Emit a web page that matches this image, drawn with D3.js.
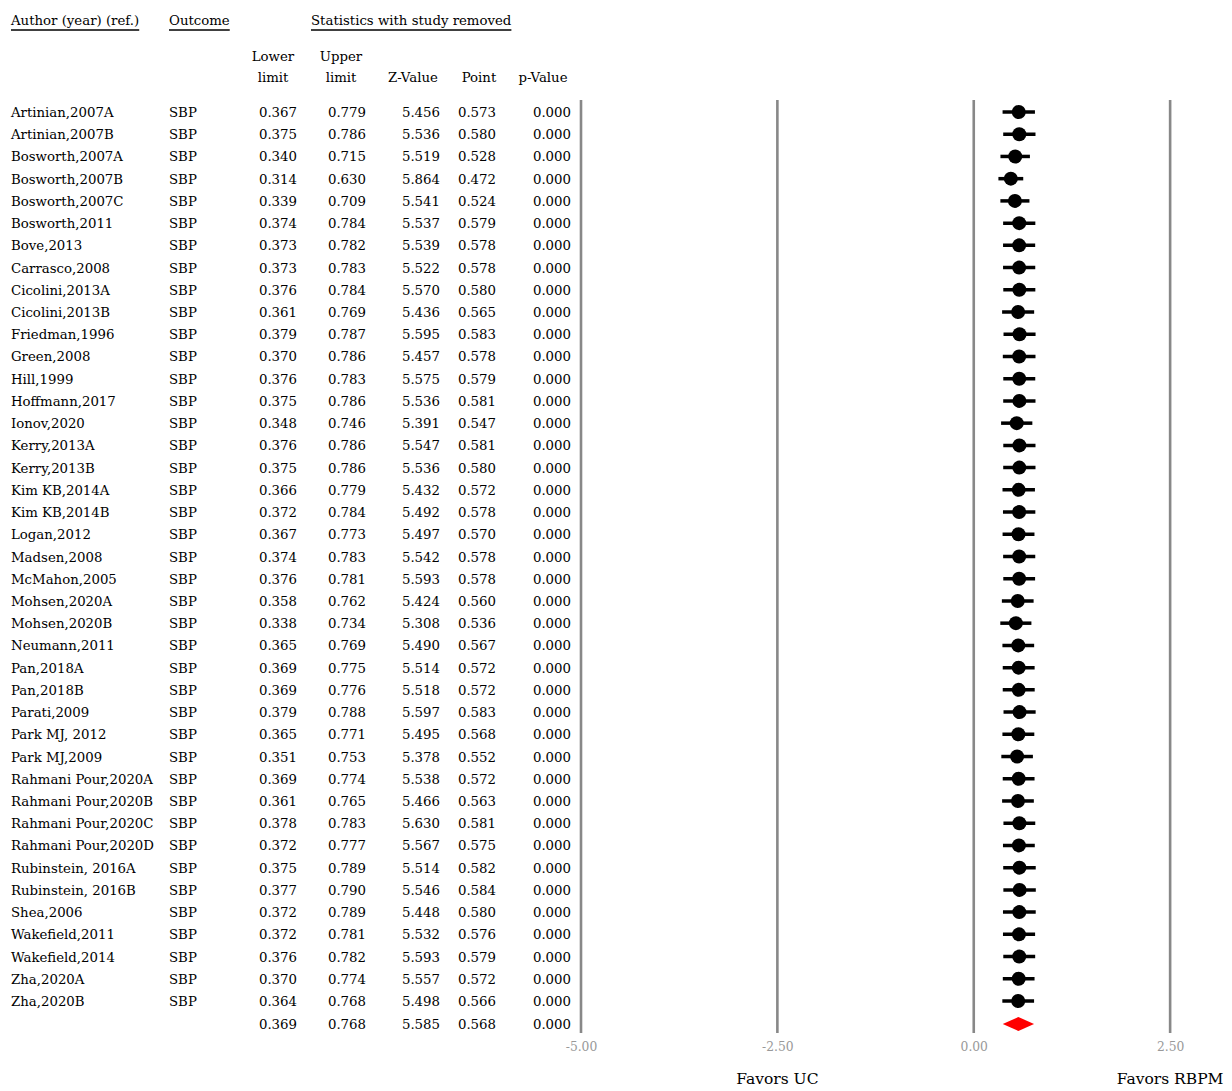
<!DOCTYPE html>
<html>
<head>
<meta charset="utf-8">
<script src="https://cdn.jsdelivr.net/npm/d3@7"></script>
<style>
  html, body { margin: 0; padding: 0; background: #fff; }
  svg { display: block; }
  text { font-family: "DejaVu Serif", "Liberation Serif", serif; }
</style>
</head>
<body>
<svg id="chart" width="1232" height="1091"></svg>
<script>
// Sensitivity analysis: one-study-removed statistics for SBP
const studies = [
  "Artinian,2007A", "Artinian,2007B", "Bosworth,2007A", "Bosworth,2007B", "Bosworth,2007C",
  "Bosworth,2011", "Bove,2013", "Carrasco,2008", "Cicolini,2013A", "Cicolini,2013B",
  "Friedman,1996", "Green,2008", "Hill,1999", "Hoffmann,2017", "Ionov,2020",
  "Kerry,2013A", "Kerry,2013B", "Kim KB,2014A", "Kim KB,2014B", "Logan,2012",
  "Madsen,2008", "McMahon,2005", "Mohsen,2020A", "Mohsen,2020B", "Neumann,2011",
  "Pan,2018A", "Pan,2018B", "Parati,2009", "Park MJ, 2012", "Park MJ,2009",
  "Rahmani Pour,2020A", "Rahmani Pour,2020B", "Rahmani Pour,2020C", "Rahmani Pour,2020D", "Rubinstein, 2016A",
  "Rubinstein, 2016B", "Shea,2006", "Wakefield,2011", "Wakefield,2014", "Zha,2020A",
  "Zha,2020B"
];
const outcome = studies.map(() => "SBP");
const lower = [
  0.367, 0.375, 0.340, 0.314, 0.339, 0.374, 0.373, 0.373, 0.376, 0.361,
  0.379, 0.370, 0.376, 0.375, 0.348, 0.376, 0.375, 0.366, 0.372, 0.367,
  0.374, 0.376, 0.358, 0.338, 0.365, 0.369, 0.369, 0.379, 0.365, 0.351,
  0.369, 0.361, 0.378, 0.372, 0.375, 0.377, 0.372, 0.372, 0.376, 0.370,
  0.364
];
const upper = [
  0.779, 0.786, 0.715, 0.630, 0.709, 0.784, 0.782, 0.783, 0.784, 0.769,
  0.787, 0.786, 0.783, 0.786, 0.746, 0.786, 0.786, 0.779, 0.784, 0.773,
  0.783, 0.781, 0.762, 0.734, 0.769, 0.775, 0.776, 0.788, 0.771, 0.753,
  0.774, 0.765, 0.783, 0.777, 0.789, 0.790, 0.789, 0.781, 0.782, 0.774,
  0.768
];
const zValue = [
  5.456, 5.536, 5.519, 5.864, 5.541, 5.537, 5.539, 5.522, 5.570, 5.436,
  5.595, 5.457, 5.575, 5.536, 5.391, 5.547, 5.536, 5.432, 5.492, 5.497,
  5.542, 5.593, 5.424, 5.308, 5.490, 5.514, 5.518, 5.597, 5.495, 5.378,
  5.538, 5.466, 5.630, 5.567, 5.514, 5.546, 5.448, 5.532, 5.593, 5.557,
  5.498
];
const point = [
  0.573, 0.580, 0.528, 0.472, 0.524, 0.579, 0.578, 0.578, 0.580, 0.565,
  0.583, 0.578, 0.579, 0.581, 0.547, 0.581, 0.580, 0.572, 0.578, 0.570,
  0.578, 0.578, 0.560, 0.536, 0.567, 0.572, 0.572, 0.583, 0.568, 0.552,
  0.572, 0.563, 0.581, 0.575, 0.582, 0.584, 0.580, 0.576, 0.579, 0.572,
  0.566
];
const pValue = studies.map(() => 0.000);

// Pooled estimate
const pooledLower = 0.369;
const pooledUpper = 0.768;
const pooledZ = 5.585;
const pooledPoint = 0.568;
const pooledP = 0.000;

const tickValues = [-5, -2.5, 0, 2.5];
const tickLabels = ["-5.00", "-2.50", "0.00", "2.50"];
const favorLabels = ["Favors UC", "Favors RBPM"];

const rows = studies.map((s, i) => ({
  name: s, outcome: outcome[i], lower: lower[i], upper: upper[i],
  z: zValue[i], point: point[i], p: pValue[i]
}));

const svg = d3.select("#chart");
const fs = 13.3;
const fmt = d3.format(".3f");

// Scales
const x = d3.scaleLinear().domain([-5, 5]).range([581, 1366.5]);
const y = d3.scaleLinear().domain([0, studies.length - 1]).range([112, 1001]);
const rowStep = y(1) - y(0);
const ySummary = y(studies.length - 1) + rowStep + 0.8;

// Header
const headers = [
  { t: "Author (year) (ref.)", x: 11 },
  { t: "Outcome", x: 169 },
  { t: "Statistics with study removed", x: 311 }
];
headers.forEach(h => {
  const t = svg.append("text").attr("x", h.x).attr("y", 25)
    .attr("font-size", fs).attr("fill", "#000").text(h.t);
  const w = t.node().getComputedTextLength();
  svg.append("line").attr("x1", h.x).attr("x2", h.x + w)
    .attr("y1", 30).attr("y2", 30).attr("stroke", "#000").attr("stroke-width", 1.3);
});

// Column definitions: right edge of numeric columns, header center
const cols = [
  { key: "lower", right: 297, hx: 273, h1: "Lower", h2: "limit" },
  { key: "upper", right: 366, hx: 341, h1: "Upper", h2: "limit" },
  { key: "z", right: 440, hx: 413, h1: "", h2: "Z-Value" },
  { key: "point", right: 496, hx: 479, h1: "", h2: "Point" },
  { key: "p", right: 571, hx: 543, h1: "", h2: "p-Value" }
];
cols.forEach(c => {
  if (c.h1) svg.append("text").attr("x", c.hx).attr("y", 61).attr("text-anchor", "middle")
    .attr("font-size", fs).text(c.h1);
  svg.append("text").attr("x", c.hx).attr("y", 82).attr("text-anchor", "middle")
    .attr("font-size", fs).text(c.h2);
});

// Gridlines at tick positions
svg.append("g").selectAll("line").data(tickValues).join("line")
  .attr("x1", d => x(d)).attr("x2", d => x(d))
  .attr("y1", 100).attr("y2", 1033)
  .attr("stroke", "#888").attr("stroke-width", 2.6);

// Axis tick labels
const axis = d3.axisBottom(x).tickValues(tickValues)
  .tickFormat((d, i) => tickLabels[i]).tickSize(0).tickPadding(0);
const axG = svg.append("g").attr("transform", `translate(0, ${1042})`).call(axis);
axG.select(".domain").remove();
axG.selectAll("text").attr("font-size", fs - 1).attr("fill", "#999")
  .attr("font-family", "DejaVu Serif, Liberation Serif, serif");

// Favors labels
svg.append("text").attr("x", x(-2.5)).attr("y", 1084).attr("text-anchor", "middle")
  .attr("font-size", fs + 2.2).text(favorLabels[0]);
svg.append("text").attr("x", x(2.5)).attr("y", 1084).attr("text-anchor", "middle")
  .attr("font-size", fs + 2.2).text(favorLabels[1]);

// Table rows
const rowG = svg.append("g").selectAll("g").data(rows).join("g")
  .attr("transform", (d, i) => `translate(0, ${y(i)})`);
rowG.append("text").attr("x", 11).attr("y", 5).attr("font-size", fs).text(d => d.name);
rowG.append("text").attr("x", 169).attr("y", 5).attr("font-size", fs).text(d => d.outcome);
cols.forEach(c => {
  rowG.append("text").attr("x", c.right).attr("y", 5).attr("text-anchor", "end")
    .attr("font-size", fs).text(d => fmt(d[c.key]));
});

// Confidence intervals and point estimates
rowG.append("line")
  .attr("x1", d => x(d.lower)).attr("x2", d => x(d.upper))
  .attr("y1", 0).attr("y2", 0)
  .attr("stroke", "#000").attr("stroke-width", 3.5);
rowG.append("circle")
  .attr("cx", d => x(d.point)).attr("cy", 0).attr("r", 7)
  .attr("fill", "#000");

// Pooled row
const pooledVals = [pooledLower, pooledUpper, pooledZ, pooledPoint, pooledP];
cols.forEach((c, i) => {
  svg.append("text").attr("x", c.right).attr("y", ySummary + 5).attr("text-anchor", "end")
    .attr("font-size", fs).text(fmt(pooledVals[i]));
});
const hd = 7;
svg.append("path")
  .attr("d", `M${x(pooledLower)},${ySummary} L${x(pooledPoint)},${ySummary - hd} L${x(pooledUpper)},${ySummary} L${x(pooledPoint)},${ySummary + hd} Z`)
  .attr("fill", "#ff0000");
</script>
</body>
</html>
